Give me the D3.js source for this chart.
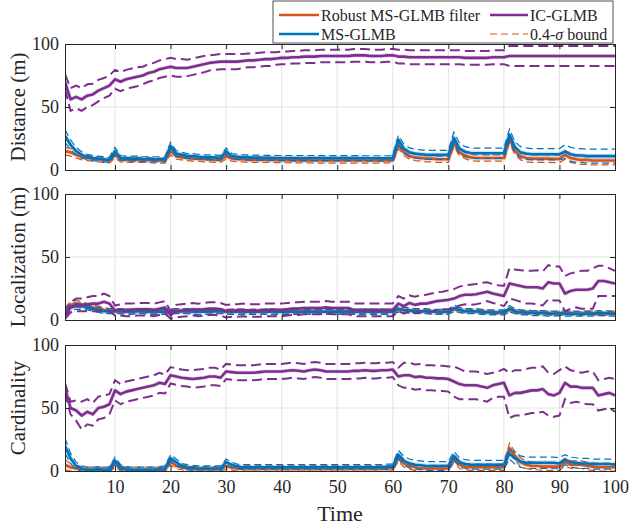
<!DOCTYPE html>
<html>
<head>
<meta charset="utf-8">
<script src="https://cdn.jsdelivr.net/npm/d3@7"></script>
<style>
  body { margin: 0; background: #fff; }
  svg text { font-family: "Liberation Serif", "Times New Roman", serif; }
</style>
</head>
<body>
<svg id="chart" width="636" height="527"></svg>
<script>
// ---- data ----
const timeSteps = d3.range(1, 101);
const xTicks = [10, 20, 30, 40, 50, 60, 70, 80, 90, 100];
const yTicks = [0, 50, 100];
const panelLabels = ["Distance (m)", "Localization (m)", "Cardinality"];
const seriesNames = ["Robust MS-GLMB filter", "MS-GLMB", "IC-GLMB"];
const boundName = "0.4-σ bound";

// distance
const distRobust = [15,14,12,10,9.5,9,8.5,8,7.5,12, 8.5,8,8,8,8,8,7.5,7.5,7.5,15,
  11,10,9.5,9,9,8.5,8.5,8,8,11, 9,8.5,8.5,8,8,8,8,8,7.8,7.8,
  7.8,7.6,7.6,7.6,7.6,7.5,7.5,7.5,7.5,7.5, 7.5,7.5,7.5,7.5,7.5,7.5,7.5,7.6,7.6,7.8,
  20,14,11,10,9.5,9,9,8.5,8.5,8.5, 21.5,14,11.5,10,9.5,9.5,9.5,9.5,9.5,9.5,
  25,15,11,9.5,9,9,9,9,8.8,8.8, 12,9.5,8.5,8,8,7.5,7.5,7.5,7.5,7.5];
const distMs = [27,20,15,12,10.5,9.5,9,8.5,8,15, 9.5,9,9,9,8.5,8.5,8.5,8.5,8.5,19,
  13,12,11,11,10.5,10,10,10,9.5,15, 11,10.5,10,10,9.8,9.8,9.6,9.6,9.5,9.5,
  9.5,9.5,9.5,9.5,9.5,9.5,9.4,9.4,9.4,9.4, 9.4,9.4,9.4,9.4,9.3,9.3,9.3,9.3,9.3,9.5,
  24,17,14,13,12.5,12,12,12,12,12, 25.5,17,14.5,13.5,13.3,13.3,13.3,13.3,13.3,13.3,
  28,18,14,13,12.5,12.5,12.5,12.5,12.5,12.5, 14.6,12.5,11.5,11.5,11,11,11,11,11,11];
const distIc = [70,56,58,56,59,60,63,65,67,72, 70,72,73,74,75,77,78,80,81,82,
  81,81,81,82,83,84,85,85.5,86,86, 86,86,86.5,87,87,87.5,88,88,88.5,89,
  89,89.5,89.5,90,90,90,90.5,90.5,90.5,90.5, 90.5,90.5,91,91,91,90.5,90.5,90.5,91,91,
  90,90,89.5,89.5,89.5,89.5,89.5,89.5,89.5,89.5, 89.5,89.5,89,89,89,89,89,89.5,89.5,89.5,
  90.5,90.5,90.5,90.5,90.5,90.5,90.5,90.5,90.5,90.5, 90.5,90.5,90.5,90.5,90.5,90.5,90.5,90.5,90.5,90.5];
const distRobustSd = [3,3,2.5,2,2,2,2,2,2,2.5, 2,2,2,2,2,2,2,2,2,3,
  2.5,2,2,2,2,2,2,2,2,2.5, 2,2,2,2,2,2,2,2,2,2,
  2,2,2,2,2,2,2,2,2,2, 2,2,2,2,2,2,2,2,2,2,
  3,2.5,2.5,2.5,2.5,2.5,2.5,2.5,2.5,2.5, 3,2.5,2.5,2.5,2.5,2.5,2.5,2.5,2.5,2.5,
  3.5,3,3,3,3,3,3,3,3,3, 3.5,3.5,3.5,3.5,3.5,3.5,3.5,3.5,3.5,3.5];
const distMsSd = [5,4,3,2.5,2,2,2,2,2,3, 2,2,2,2,2,2,2,2,2,3,
  2.5,2,2,2,2,2,2,2,2,2.5, 2,2,2,2,2,2,2,2,2,2,
  2,2,2,2,2,2,2,2,2,2, 2,2,2,2,2,2,2,2,2,2,
  3.5,3.5,3.5,3.5,3.5,3.5,3.5,3.5,3.5,3.5, 4.5,4.5,4,4,4,4,4,4,4,4,
  4.5,4.5,4.5,4.5,4.5,4.5,4.5,4.5,4.5,4.5, 5.5,5.5,5.5,5.5,5.5,5.5,5.5,5.5,5.5,5.5];
const distIcSd = [6,9,9,9,9,8.5,8.5,8,8,7.5, 7.5,7.5,7.5,7.5,7,7,7,7,7,7,
  7,7,6.5,6.5,6.5,6.5,6,6,6,6, 6,6,5.5,5.5,5.5,5.5,5.5,5.5,5,5,
  5,5,5,5,5,5,5,5,5,5, 5,5,5,5,5,5,5,5,5,5,
  5.5,5.5,5.5,5.5,5.5,5.5,5.5,5.5,5.5,5.5, 5.5,5.5,5.5,5.5,5.5,5.5,5.5,5.5,5.5,5.5,
  8,8,8,8,8,8,8,8,8,8, 8,8,8,8,8,8,8,8,8,8];

// localization
const locRobust = [8,12,13,12,11,10,9,8,7.5,7, 7,7,7,7,7,7,7,7,7,7,
  7,7,7,7,7.5,7.5,7,7,7,7, 7,7.5,7,6.5,7,7,7,7.5,7,7,
  7,7,6.5,7,7,7,7,6.5,6.5,7, 7,7,6.5,6.5,7,7,6.5,6.5,6.5,7,
  8,8,7.5,7,7,7,6.5,6.5,6.5,6.5, 8.5,8,7,7,7,6.5,6.5,6,6,6,
  8,7,6,6,6,6,5.5,5.5,5,5, 5.5,5.5,5,5,5.5,5.5,5,5,5.5,5.5];
const locMs = [6,10,11,11,10,9,8,7,7,7, 7,6.5,6.5,7,7,6.5,6.5,6.5,6.5,7,
  7,7,7,6.5,6.5,6.5,6.5,7,7,6.5, 6.5,6.5,6.5,6.5,6.5,6.5,6.5,6.5,6.5,6.5,
  6.5,6.5,6.5,6.5,6.5,6.5,6.5,6.5,6.5,6.5, 6.5,6.5,6.5,6.5,6.5,6.5,6.5,6.5,6.5,6.5,
  9,8,7.5,7,7,7,6.5,6.5,6.5,6.5, 9.5,8,7,7,7,6.5,6,6,6,6,
  9,7,6,6,5.5,5.5,5.5,5,5,5.5, 5,5,5,5,5,5,5.5,5.5,5,5];
const locIc = [3,10,12,12,12.5,13,13,14.5,13,7.5, 8,8,8,8.5,8.5,8.5,8,9,10,4,
  7,7.5,8,8.5,8,8.5,9,9,8.5,7, 7.5,7.5,8,7.5,7.5,7.5,8,8,8,8,
  8.5,9,9,9.5,9.5,9.5,9.5,10,9.5,9.5, 9.5,9.5,8,8,8,8,8,8,8,8,
  13,11,13.5,12,13,13,14,15,15.5,16, 17,19,20,20,20.5,21.5,22.5,21,20,19,
  29,28,27,26,26,26,25,30,29,29, 21,23,24,24,24,25,31,31,30,29];
const locRobustSd = [2,2.5,2.5,2.5,2,2,2,2,1.5,1.5, 1.5,1.5,1.5,1.5,1.5,1.5,1.5,1.5,1.5,1.5,
  1.5,1.5,1.5,1.5,1.5,1.5,1.5,1.5,1.5,1.5, 1.5,1.5,1.5,1.5,1.5,1.5,1.5,1.5,1.5,1.5,
  1.5,1.5,1.5,1.5,1.5,1.5,1.5,1.5,1.5,1.5, 1.5,1.5,1.5,1.5,1.5,1.5,1.5,1.5,1.5,1.5,
  2,2,1.5,1.5,1.5,1.5,1.5,1.5,1.5,1.5, 2,2,1.5,1.5,1.5,1.5,1.5,1.5,1.5,1.5,
  2,1.5,1.5,1.5,1.5,1.5,1.5,1.5,1.5,1.5, 1.5,1.5,1.5,1.5,1.5,1.5,1.5,1.5,1.5,1.5];
const locMsSd = [3,3,2.5,2.5,2,2,2,2,2,2, 2,2,2,2,2,2,2,2,2,2,
  2,2,2,2,2,2,2,2,2,2, 2,2,2,2,2,2,2,2,2,2,
  2,2,2,2,2,2,2,2,2,2, 2,2,2,2,2,2,2,2,2,2,
  2.5,2.5,2,2,2,2,2,2,2,2, 2.5,2,2,2,2,2,2,2,2,2,
  2.5,2,2,2,2,2,2,2,2,2, 2,2,2,2,2,2,2,2,2,2];
const locIcSd = [2,4,5,5,5.5,6,6,6.5,6,4, 4.5,5,5,5,5,5,5,5,5,3,
  5,5,5,5,5,5,5,5,5,5, 5,5,5,5,5,5,5,5,5,5,
  5,5,5,5,5,5,5,5,5,5, 5,5,5,5,5,5,5,5,5,5,
  6,6,6,6.5,6.5,7,7,7,7,7.5, 7.5,7.5,7.5,8,8,8,7.5,7.5,7.5,8,
  12,12,12.5,13,13,13.5,13.5,13.5,13.5,13.5, 14,14,14,15,15,16,12,12,11,10];

// cardinality
const cardRobust = [5,3,2,1.5,1,1,1,1,1,6, 2,1,1,1,1,1,1,1,1,8,
  4,3,2,1.5,1.5,1.5,1.5,1.5,1.5,4, 2.5,2,2,2,2,2,2,2,2,2,
  2,2,2,2,2,2,2,2,2,2, 2,2,2,2,2,2,2,2,2,2,
  11,6,4,3,2,2,2,2,2,2, 10,5,3.5,3,3,3,3,3,3,3,
  18,12,7,5,4,4,3.5,3.5,3.5,3.5, 7,5,5,5,4,3.5,3,3,3,3];
const cardMs = [20,10,4,2,1,1,1.5,1,1,8, 3,1.5,1,1,1,1,1,1.5,2,10,
  7,4,3,2.5,2,2,2,2,2,7, 5,3.5,3,3,3,3,3,3,3,3,
  3,3,3,3,3,3,3,3,3,3, 3,3,3,3,3,3,3,3,3.5,3.5,
  13,8,6,5,4.5,4,4,4,4,4, 12,7,5.5,5,5,5,5,5,5,5,
  14,10,7.5,6.5,6.5,6.5,6.5,6.5,6.5,6, 9,7,6.5,6,6,5.5,5.5,5.5,5.5,5];
const cardIc = [66,50,48,44,47,45,50,51,53,64, 61,63,64,65,66,67,68,70,69,76,
  75,74,73.5,73,73.5,74,75,75,74,79, 78.5,78,78,78,78,78.5,79,79,79,79,
  79.5,80,79.5,79,80,80.5,80,79,79,79, 79,79,79.5,79.5,80,79.5,79.5,80,80,80.5,
  75,76,76,74.5,75,74,74,73.5,73.5,73, 71,69,68,68,68,67,66,68,69,70,
  60,62,62,63,64,64,65,61,60,62, 70,67,67,66,66,66,60,61,62,60];
const cardRobustSd = [4,3,2.5,2,2,2,2,2,2,3, 2,2,2,2,2,2,2,2,2,3,
  2.5,2,2,2,2,2,2,2,2,2.5, 2,2,2,2,2,2,2,2,2,2,
  2,2,2,2,2,2,2,2,2,2, 2,2,2,2,2,2,2,2,2,2,
  3,3,2.5,2.5,2.5,2.5,2.5,2.5,2.5,2.5, 3,3,2.5,2.5,2.5,2.5,2.5,2.5,2.5,2.5,
  4,3.5,3.5,3,3,3,3,3,3,3, 3,3,3,3,3,3,3,3,3,3];
const cardMsSd = [6,4,3,2,2,2,2,2,2,3, 2,2,2,2,2,2,2,2,2,3,
  2.5,2,2,2,2,2,2,2,2,2.5, 2,2,2,2,2,2,2,2,2,2,
  2,2,2,2,2,2,2,2,2,2, 2,2,2,2,2,2,2,2,2,2,
  3.5,3.5,3.5,3.5,3.5,3.5,3.5,3.5,3.5,3.5, 3.5,3.5,3.5,3.5,3.5,3.5,3.5,3.5,3.5,3.5,
  4.5,4.5,4.5,4.5,4.5,4.5,4.5,4.5,4.5,4.5, 4,4,4,4,4,4,4,4,4,4];
const cardIcSd = [4,5,8,11,10,9,9,9,8,8, 8,8,8,8,8,8,8,8,7.5,6.5,
  6.5,6.5,6.5,7,7,7,7,7,6.5,6, 6,6,6,6,6,6,6,6,6,6,
  6,6,6,6,6,6,6,6,6,6, 6,6,6,6,6,6,6,6,6,6,
  7,10,10,10,10,10,10,10,10,10, 12,12,11,11,11,11,11,10,10,11,
  18,18,18,18,18,18,18,17,17,18, 13,13,12,12,13,13,12,12,12,13];

// ---- layout ----
const svg = d3.select("#chart");
const colors = ["#D95319", "#0072BD", "#7E2F8E"];
const serif = "'Liberation Serif', 'Times New Roman', serif";
const plotLeft = 65, plotRight = 615;
const panelTops = [44, 194, 345];
const panelHeight = 126;

const panels = [
  { label: panelLabels[0], means: [distRobust, distMs, distIc], sds: [distRobustSd, distMsSd, distIcSd] },
  { label: panelLabels[1], means: [locRobust, locMs, locIc], sds: [locRobustSd, locMsSd, locIcSd] },
  { label: panelLabels[2], means: [cardRobust, cardMs, cardIc], sds: [cardRobustSd, cardMsSd, cardIcSd] }
];

const x = d3.scaleLinear().domain([1, 100]).range([plotLeft, plotRight]);

panels.forEach((p, pi) => {
  const top = panelTops[pi];
  const y = d3.scaleLinear().domain([0, 100]).range([top + panelHeight, top]);
  const g = svg.append("g");

  // grid
  g.selectAll("line.gx").data(xTicks.slice(0, -1)).join("line")
    .attr("x1", d => x(d)).attr("x2", d => x(d))
    .attr("y1", top).attr("y2", top + panelHeight)
    .attr("stroke", "#dcdcdc").attr("stroke-width", 0.8);
  g.selectAll("line.gy").data([50]).join("line")
    .attr("x1", plotLeft).attr("x2", plotRight)
    .attr("y1", d => y(d)).attr("y2", d => y(d))
    .attr("stroke", "#dcdcdc").attr("stroke-width", 0.8);

  // clip
  const clipId = "clip" + pi;
  svg.append("clipPath").attr("id", clipId).append("rect")
    .attr("x", plotLeft).attr("y", top)
    .attr("width", plotRight - plotLeft).attr("height", panelHeight);
  const lines = g.append("g").attr("clip-path", `url(#${clipId})`);

  const line = d3.line().x((d, i) => x(timeSteps[i])).y(d => y(d));

  [0, 1, 2].forEach(s => {
    const mean = p.means[s], sd = p.sds[s];
    const upper = mean.map((m, i) => m + sd[i]);
    const lower = mean.map((m, i) => m - sd[i]);
    const isIc = s === 2;
    // faint halo like the individual runs
    lines.append("path").datum(mean)
      .attr("d", line).attr("fill", "none")
      .attr("stroke", colors[s]).attr("stroke-opacity", 0.2)
      .attr("stroke-width", isIc ? 4 : 5).attr("stroke-linejoin", "round");
    [upper, lower].forEach(b => {
      lines.append("path").datum(b)
        .attr("d", line).attr("fill", "none")
        .attr("stroke", colors[s])
        .attr("stroke-width", isIc ? 2 : 1.2)
        .attr("stroke-dasharray", isIc ? "10,5" : "7,4");
    });
    lines.append("path").datum(mean)
      .attr("d", line).attr("fill", "none")
      .attr("stroke", colors[s]).attr("stroke-width", 2.6)
      .attr("stroke-linejoin", "round");
  });

  // axes (inward ticks, box)
  const axL = d3.axisLeft(y).tickValues(yTicks).tickSize(-5).tickPadding(6);
  const axR = d3.axisRight(y).tickValues(yTicks).tickSize(-5).tickFormat("");
  const axB = d3.axisBottom(x).tickValues(xTicks).tickSize(-5).tickPadding(9);
  const axT = d3.axisTop(x).tickValues(xTicks).tickSize(-5).tickFormat("");
  if (pi < 2) axB.tickFormat("");

  const gl = g.append("g").attr("transform", `translate(${plotLeft},0)`).call(axL);
  const gr = g.append("g").attr("transform", `translate(${plotRight},0)`).call(axR);
  const gb = g.append("g").attr("transform", `translate(0,${top + panelHeight})`).call(axB);
  const gt = g.append("g").attr("transform", `translate(0,${top})`).call(axT);
  [gl, gr, gb, gt].forEach(a => {
    a.attr("font-family", serif).attr("font-size", 18);
    a.select(".domain").attr("stroke", "#262626").attr("stroke-width", 1);
    a.selectAll(".tick line").attr("stroke", "#262626");
    a.selectAll(".tick text").attr("fill", "#262626");
  });

  g.append("text")
    .text(p.label)
    .attr("transform", `translate(18,${top + panelHeight / 2}) rotate(-90)`)
    .attr("text-anchor", "middle")
    .attr("dominant-baseline", "central")
    .attr("fill", "#262626")
    .style("font-size", "21px");
});

svg.append("text")
  .text("Time")
  .attr("x", (plotLeft + plotRight) / 2)
  .attr("y", 521)
  .attr("text-anchor", "middle")
  .attr("fill", "#262626")
  .style("font-size", "22px");

// ---- legend ----
const legend = svg.append("g");
legend.append("rect")
  .attr("x", 273).attr("y", 1).attr("width", 340).attr("height", 42)
  .attr("fill", "white").attr("stroke", "#262626").attr("stroke-width", 0.8);

const legendItems = [
  { text: seriesNames[0], color: colors[0], x: 279, y: 15, dash: null, w: 2.6 },
  { text: seriesNames[1], color: colors[1], x: 279, y: 34, dash: null, w: 2.6 },
  { text: seriesNames[2], color: colors[2], x: 490, y: 15, dash: null, w: 2.6 },
  { text: boundName, color: colors[0], x: 490, y: 34, dash: "7,4", w: 1.2 }
];
legendItems.forEach(d => {
  const len = d.x < 400 ? 40 : 38;
  legend.append("line")
    .attr("x1", d.x).attr("x2", d.x + len)
    .attr("y1", d.y).attr("y2", d.y)
    .attr("stroke", d.color).attr("stroke-width", d.w)
    .attr("stroke-dasharray", d.dash);
  const t = legend.append("text")
    .attr("x", d.x + len + 2).attr("y", d.y)
    .attr("dominant-baseline", "central")
    .attr("fill", "#262626")
    .style("font-size", "16px");
  if (d.text.includes("σ")) {
    const parts = d.text.split("σ");
    t.append("tspan").text(parts[0]);
    t.append("tspan").text("σ").style("font-style", "italic");
    t.append("tspan").text(parts[1]);
  } else {
    t.text(d.text);
  }
});
</script>
</body>
</html>
